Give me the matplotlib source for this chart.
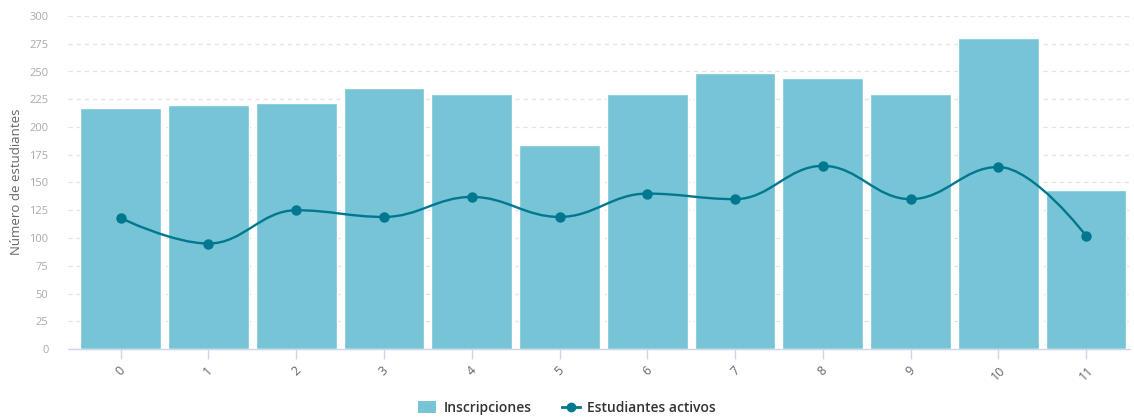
import numpy as np
import matplotlib
matplotlib.use("Agg")
import matplotlib.pyplot as plt
from matplotlib.path import Path
from matplotlib.patches import PathPatch, Patch
from matplotlib.lines import Line2D

plt.rcParams["font.family"] = ["Open Sans", "DejaVu Sans"]

categories = ["0", "1", "2", "3", "4", "5", "6", "7", "8", "9", "10", "11"]
inscripciones = [217, 220, 222, 235, 230, 184, 230, 249, 244, 230, 280, 143]
activos = [118, 95, 125, 119, 137, 119, 140, 135, 165, 135, 164, 102]
y_ticks = list(range(0, 301, 25))

bar_color = "#77c4d6"
line_color = "#00788f"


def spline_path(xs, ys, smoothing=1.5):
    # Highcharts-style spline: cubic bezier through every data point
    denom = smoothing + 1
    n = len(xs)
    left = [None] * n
    right = [None] * n
    for i in range(1, n - 1):
        lx, ly = xs[i - 1], ys[i - 1]
        nx, ny = xs[i + 1], ys[i + 1]
        px, py = xs[i], ys[i]
        lcx = (smoothing * px + lx) / denom
        lcy = (smoothing * py + ly) / denom
        rcx = (smoothing * px + nx) / denom
        rcy = (smoothing * py + ny) / denom
        corr = (rcy - lcy) * (rcx - px) / (rcx - lcx) + py - rcy
        lcy += corr
        rcy += corr
        if lcy > ly and lcy > py:
            lcy = max(ly, py)
            rcy = 2 * py - lcy
        elif lcy < ly and lcy < py:
            lcy = min(ly, py)
            rcy = 2 * py - lcy
        if rcy > ny and rcy > py:
            rcy = max(ny, py)
            lcy = 2 * py - rcy
        elif rcy < ny and rcy < py:
            rcy = min(ny, py)
            lcy = 2 * py - rcy
        left[i] = (lcx, lcy)
        right[i] = (rcx, rcy)
    verts = [(xs[0], ys[0])]
    codes = [Path.MOVETO]
    for i in range(1, n):
        c1 = right[i - 1] if right[i - 1] else (xs[i - 1], ys[i - 1])
        c2 = left[i] if left[i] else (xs[i], ys[i])
        verts += [c1, c2, (xs[i], ys[i])]
        codes += [Path.CURVE4] * 3
    return Path(verts, codes)


fig = plt.figure(figsize=(11.34, 4.19), dpi=100)
ax = fig.add_axes([68 / 1134, 1 - 349 / 419, 1062 / 1134, 333 / 419])

x = np.arange(len(categories))
ax.bar(x, inscripciones, width=0.92, color=bar_color, edgecolor="white",
       linewidth=1, zorder=2)

path = spline_path(list(x.astype(float)), activos)
ax.add_patch(PathPatch(path, facecolor="none", edgecolor=line_color,
                       linewidth=1.7, zorder=3, capstyle="round"))
ax.plot(x, activos, linestyle="none", marker="o", markersize=6.5,
        color=line_color, zorder=4)

ax.set_xlim(-0.6, 11.5)
ax.set_ylim(0, 300)
ax.set_yticks(y_ticks)
ax.set_yticklabels([str(v) for v in y_ticks], fontsize=8, color="#aaaaaa")
ax.tick_params(axis="y", length=0, pad=14)
ax.set_xticks(x)
ax.set_xticklabels(categories, rotation=45, ha="center", va="top",
                   fontsize=9, color="#666666")
ax.tick_params(axis="x", length=7, width=1, color="#ccd6eb", pad=4)

ax.grid(axis="y", color="#e3e3e3", linestyle=(0, (3.5, 3)), linewidth=0.9, zorder=0)
ax.set_axisbelow(True)
for side in ["top", "right", "left"]:
    ax.spines[side].set_visible(False)
ax.spines["bottom"].set_color("#ccd6eb")
ax.spines["bottom"].set_linewidth(1)

fig.text(17 / 1134, 1 - 182 / 419, "Número de estudiantes", rotation=90,
         ha="center", va="center", fontsize=9.5, color="#666666")

handles = [
    Patch(facecolor=bar_color, edgecolor="none", label="Inscripciones"),
    Line2D([0], [0], color=line_color, linewidth=2, marker="o", markersize=6,
           label="Estudiantes activos"),
]
fig.legend(handles=handles, loc="center", bbox_to_anchor=(0.5, 1 - 408 / 419),
           ncol=2, frameon=False, labelcolor="#333333",
           handlelength=1.3, handleheight=1.0, columnspacing=2.2,
           handletextpad=0.5, prop={"weight": "semibold", "size": 10})

fig.savefig("out.png", dpi=100)
